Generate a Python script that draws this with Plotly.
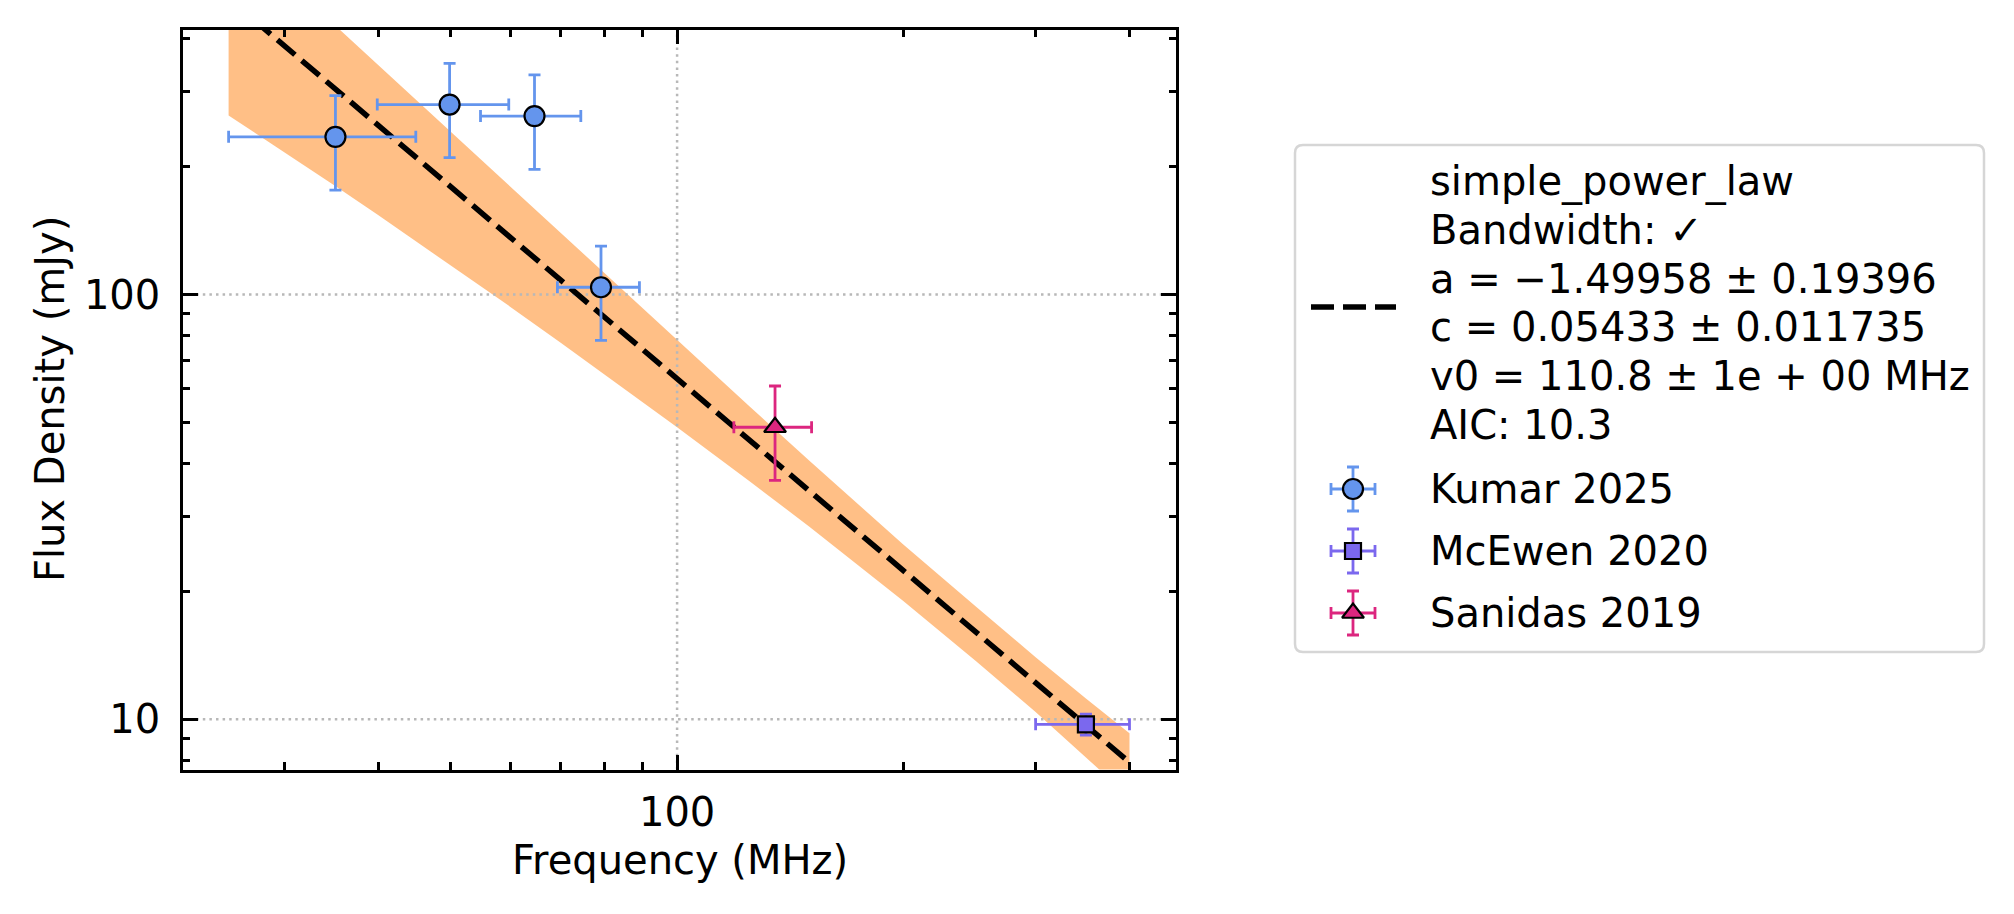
import plotly.graph_objects as go

W, H = 2014, 914

# ---------------- data ----------------
kumar_freq = [35.1, 49.8, 64.6, 79.2]
kumar_freq_err = [9.8, 9.9, 9.85, 9.9]
kumar_flux = [235, 280, 263, 104]
kumar_flux_err = [59, 70, 66, 26]

mcewen_freq = [350]
mcewen_freq_err = [50]
mcewen_flux = [9.73]
mcewen_flux_err = [0.55]

sanidas_freq = [135]
sanidas_freq_err = [16]
sanidas_flux = [48.7]
sanidas_flux_err = [12.2]

# fitted simple power law (dashed line) end points
fit_freq = [25.3, 400]
fit_flux = [497.6, 7.92]

# uncertainty band edges
band_freq = [25.3, 30, 35, 40, 45, 50, 60, 70, 80, 100, 125, 150, 200, 250, 300, 350, 400]
band_upper = [731.2, 554.1, 431.3, 347.0, 286.4, 241.2, 179.2, 139.4, 112.1, 78.0,
              54.4, 40.6, 25.8, 18.4, 14.0, 11.2, 9.27]
band_lower = [264.0, 216.5, 180.5, 153.8, 133.3, 117.2, 93.5, 77.0, 65.0, 48.7,
              36.3, 28.4, 19.0, 13.7, 10.4, 8.15, 6.57]

x_major = [100]
x_major_text = ["100"]
x_minor = [30, 40, 50, 60, 70, 80, 90, 200, 300, 400]
y_major = [10, 100]
y_major_text = ["10", "100"]
y_minor = [8, 9, 20, 30, 40, 50, 60, 70, 80, 90, 200, 300, 400]

x_title = "Frequency (MHz)"
y_title = "Flux Density (mJy)"

legend_fit_lines = [
    "simple_power_law",
    "Bandwidth: \u2713",
    "a = \u22121.49958 \u00b1 0.19396",
    "c = 0.05433 \u00b1 0.011735",
    "v0 = 110.8 \u00b1 1e + 00 MHz",
    "AIC: 10.3",
]
legend_series = ["Kumar 2025", "McEwen 2020", "Sanidas 2019"]

# ---------------- styles ----------------
FONT = "DejaVu Sans"
FS = 40
C_KUMAR = "#6495ED"
C_MCEWEN = "#7B68EE"
C_SANIDAS = "#DC267F"
C_BAND = "rgba(255,127,14,0.5)"
GRID_C = "#b8b8b8"
DASH = "23px,9px"

X_RANGE = [1.34244, 2.66396]
Y_RANGE = [0.88183, 2.62382]
PX_L, PX_R, PX_T, PX_B = 183, 1176, 29.5, 769.5

fig = go.Figure()

# band
fig.add_trace(go.Scatter(
    x=band_freq + band_freq[::-1],
    y=band_upper + band_lower[::-1],
    mode="lines", fill="toself", fillcolor=C_BAND,
    line=dict(width=0, color="rgba(0,0,0,0)"),
    hoverinfo="skip", xaxis="x", yaxis="y"))

# grid (drawn above the band, below line and markers)
for gx in x_major:
    fig.add_trace(go.Scatter(x=[gx, gx], y=[10 ** Y_RANGE[0], 10 ** Y_RANGE[1]],
                             mode="lines", line=dict(color=GRID_C, width=2.5, dash="2.5px,4.1px"),
                             hoverinfo="skip"))
for gy in y_major:
    fig.add_trace(go.Scatter(x=[10 ** X_RANGE[0], 10 ** X_RANGE[1]], y=[gy, gy],
                             mode="lines", line=dict(color=GRID_C, width=2.5, dash="2.5px,4.1px"),
                             hoverinfo="skip"))

# fit line
fig.add_trace(go.Scatter(x=fit_freq, y=fit_flux, mode="lines",
                         line=dict(color="black", width=5.5, dash=DASH)))


def err_trace(x, xe, y, ye, color, symbol, size, xa="x", ya="y"):
    return go.Scatter(
        x=x, y=y, mode="markers", xaxis=xa, yaxis=ya,
        marker=dict(symbol=symbol, size=size, color=color, line=dict(color="black", width=2.2)),
        error_x=dict(type="data", array=xe, color=color, thickness=2.8, width=6, visible=True),
        error_y=dict(type="data", array=ye, color=color, thickness=2.8, width=6, visible=True),
    )


MK = [(C_KUMAR, "circle", 20), (C_MCEWEN, "square", 16), (C_SANIDAS, "triangle-up", 19)]

fig.add_trace(err_trace(kumar_freq, kumar_freq_err, kumar_flux, kumar_flux_err, *MK[0]))
fig.add_trace(err_trace(mcewen_freq, mcewen_freq_err, mcewen_flux, mcewen_flux_err, *MK[1]))
fig.add_trace(err_trace(sanidas_freq, sanidas_freq_err, sanidas_flux, sanidas_flux_err, *MK[2]))

# ---------------- legend (drawn on a pixel overlay axis) ----------------
LG_L, LG_T, LG_R, LG_B, RR = 1295, 145, 1984, 652, 8
box = (f"M{LG_L+RR},{LG_T} L{LG_R-RR},{LG_T} Q{LG_R},{LG_T} {LG_R},{LG_T+RR} "
       f"L{LG_R},{LG_B-RR} Q{LG_R},{LG_B} {LG_R-RR},{LG_B} L{LG_L+RR},{LG_B} "
       f"Q{LG_L},{LG_B} {LG_L},{LG_B-RR} L{LG_L},{LG_T+RR} Q{LG_L},{LG_T} {LG_L+RR},{LG_T} Z")
fig.add_shape(type="path", path=box, xref="x2", yref="y2",
              line=dict(color="#d6d6d6", width=2.5), fillcolor="white", layer="below")

HAND_X = 1353
fig.add_trace(go.Scatter(x=[1311, 1396], y=[307, 307], mode="lines", xaxis="x2", yaxis="y2",
                         line=dict(color="black", width=5.5, dash=DASH)))
leg_y = [489, 551, 613]
for yy, st in zip(leg_y, MK):
    fig.add_trace(err_trace([HAND_X], [22], [yy], [22], *st, xa="x2", ya="y2"))

line_y0, line_dy = 181.5, 48.6
for i, txt in enumerate(legend_fit_lines):
    fig.add_annotation(x=1428, y=line_y0 + i * line_dy, xref="x2", yref="y2", text=txt,
                       showarrow=False, xanchor="left", yanchor="middle",
                       font=dict(family=FONT, size=FS, color="black"))
for yy, txt in zip(leg_y, legend_series):
    fig.add_annotation(x=1428, y=yy, xref="x2", yref="y2", text=txt,
                       showarrow=False, xanchor="left", yanchor="middle",
                       font=dict(family=FONT, size=FS, color="black"))

# axis titles
fig.add_annotation(x=(PX_L + PX_R) / 2, y=860, xref="x2", yref="y2", text=x_title,
                   showarrow=False, xanchor="center", yanchor="middle",
                   font=dict(family=FONT, size=FS, color="black"))
fig.add_annotation(x=49.5, y=(PX_T + PX_B) / 2, xref="x2", yref="y2", text=y_title,
                   showarrow=False, xanchor="center", yanchor="middle", textangle=-90,
                   font=dict(family=FONT, size=FS, color="black"))

axis_common = dict(
    type="log", tickmode="array", ticks="inside", ticklen=15, tickwidth=2.5, tickcolor="black",
    showline=True, linecolor="black", linewidth=2.5, mirror="allticks",
    showgrid=False, zeroline=False,
    tickfont=dict(family=FONT, size=FS, color="black"),
)

fig.update_layout(
    width=W, height=H, margin=dict(l=0, r=0, t=0, b=0),
    paper_bgcolor="white", plot_bgcolor="rgba(0,0,0,0)",
    showlegend=False, font=dict(family=FONT, size=FS, color="black"),
    xaxis=dict(range=X_RANGE, domain=[PX_L / W, PX_R / W], anchor="y",
               tickvals=x_major, ticktext=x_major_text, ticklabelstandoff=6,
               minor=dict(tickvals=x_minor, ticks="inside", ticklen=7.5, tickwidth=2.5,
                          tickcolor="black", showgrid=False),
               **axis_common),
    yaxis=dict(range=Y_RANGE, domain=[(H - PX_B) / H, (H - PX_T) / H], anchor="x",
               tickvals=y_major, ticktext=y_major_text, ticklabelstandoff=12,
               minor=dict(tickvals=y_minor, ticks="inside", ticklen=7.5, tickwidth=2.5,
                          tickcolor="black", showgrid=False),
               **axis_common),
    xaxis2=dict(domain=[0, 1], range=[0, W], visible=False, anchor="y2", fixedrange=True),
    yaxis2=dict(domain=[0, 1], range=[H, 0], visible=False, anchor="x2", fixedrange=True),
)

fig.write_html("out.html")
